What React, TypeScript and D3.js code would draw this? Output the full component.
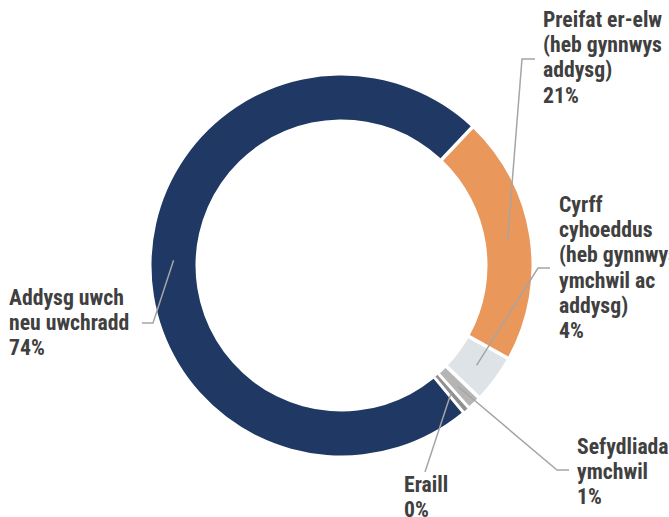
import React, { useEffect, useRef } from 'react';
import * as d3 from 'd3';

// data
const categories = [
  'Preifat er-elw (heb gynnwys addysg)',
  'Cyrff cyhoeddus (heb gynnwys ymchwil ac addysg)',
  'Sefydliadau ymchwil',
  'Eraill',
  'Addysg uwch neu uwchradd',
];
const values = [21.05, 3.9, 1.0, 0.3, 73.75];
const percentLabels = ['21%', '4%', '1%', '0%', '74%'];
const labelLines = [
  ['Preifat er-elw', '(heb gynnwys', 'addysg)'],
  ['Cyrff', 'cyhoeddus', '(heb gynnwys', 'ymchwil ac', 'addysg)'],
  ['Sefydliadau', 'ymchwil'],
  ['Eraill'],
  ['Addysg uwch', 'neu uwchradd'],
];
const colors = ['#e9975b', '#dde3e7', '#b5b5b5', '#8f8f8f', '#1f3864'];

// label placement (annotation layout)
const labelPos = [
  { x: 543, y: 27, elbow: [522, 59], end: [535, 59] },
  { x: 559, y: 212, elbow: [538, 268], end: [550, 268] },
  { x: 577, y: 454, elbow: [557, 470], end: [569, 470] },
  { x: 404, y: 492, elbow: [425, 472], end: [425, 472] },
  { x: 9, y: 305, elbow: [153, 323], end: [142, 323] },
];

const W = 669;
const H = 517;

const App: React.FC = () => {
  const ref = useRef<SVGSVGElement>(null);

  useEffect(() => {
    if (!ref.current) return;
    const svg = d3.select(ref.current);
    svg.selectAll('*').remove();

    const cx = 341.5;
    const cy = 265.5;
    const outerR = 190;
    const innerR = 146;
    const start = (43.4 * Math.PI) / 180;

    const g = svg.append('g').attr('transform', `translate(${cx},${cy})`);

    const pie = d3.pie<number>()
      .sort(null)
      .value(d => d)
      .startAngle(start)
      .endAngle(start + 2 * Math.PI)
      .padAngle(0.015);

    const arcs = pie(values);
    const arc = d3.arc<d3.PieArcDatum<number>>()
      .innerRadius(innerR)
      .outerRadius(outerR);

    g.selectAll('path.slice')
      .data(arcs)
      .enter()
      .append('path')
      .attr('class', 'slice')
      .attr('d', arc)
      .attr('fill', (_, i) => colors[i])
      .attr('stroke', (_, i) => (i === 3 ? colors[i] : 'none'))
      .attr('stroke-width', 1.2);

    // leader lines
    const midR = (innerR + outerR) / 2;
    arcs.forEach((a, i) => {
      const ang = (a.startAngle + a.endAngle) / 2;
      const sx = cx + midR * Math.sin(ang);
      const sy = cy - midR * Math.cos(ang);
      const lp = labelPos[i];
      svg.append('path')
        .attr('d', d3.line()([[sx, sy], lp.elbow as [number, number], lp.end as [number, number]]))
        .attr('fill', 'none')
        .attr('stroke', '#a5a5a5')
        .attr('stroke-width', 1.5);
    });

    // labels
    const lh = 25.2;
    categories.forEach((_, i) => {
      const lp = labelPos[i];
      const t = svg.append('text')
        .attr('x', lp.x)
        .attr('y', lp.y)
        .attr('fill', '#404040')
        .style('font-family', '"Liberation Sans Narrow", "Roboto Condensed", Roboto, sans-serif')
        .style('font-weight', 'bold')
        .style('font-size', '21.7px');
      [...labelLines[i], percentLabels[i]].forEach((line, j) => {
        t.append('tspan').attr('x', lp.x).attr('y', lp.y + j * lh).text(line);
      });
    });
  }, []);

  return (
    <svg
      ref={ref}
      width={W}
      height={H}
      style={{ position: 'absolute', left: 0, top: 0, background: '#fff' }}
    />
  );
};

export default App;
